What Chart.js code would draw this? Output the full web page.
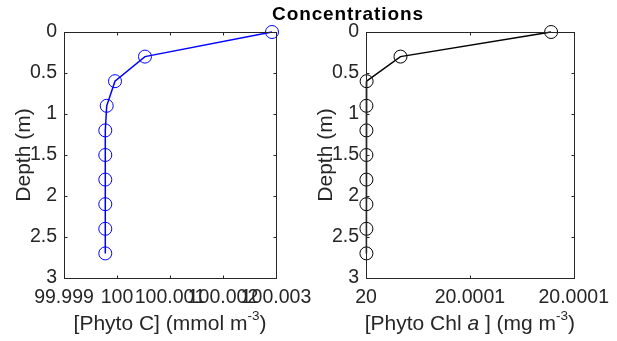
<!DOCTYPE html>
<html>
<head>
<meta charset="utf-8">
<script src="https://cdn.jsdelivr.net/npm/chart.js@4.4.0/dist/chart.umd.min.js"></script>
<style>
body{margin:0;background:#fff;}
#wrap{position:relative;width:617px;height:341px;}
canvas{position:absolute;left:0;top:0;}
#title{
    position:absolute;left:248px;top:3px;width:200px;
    text-align:center;font:bold 19px "Liberation Sans";
    letter-spacing:0.9px;line-height:22px;color:#000;
}
</style>
</head>
<body>
<div id="wrap">
<canvas id="chartC" width="617" height="341"></canvas>
<canvas id="chartChl" width="617" height="341"></canvas>
<div id="title">Concentrations</div>
</div>
<script>

/* DATA */

const depth = [0, 0.3, 0.6, 0.9, 1.2, 1.5, 1.8, 2.1, 2.4, 2.7];

const phytoC = [100.002925, 100.000528, 99.999962, 99.999806, 99.999779,
    99.999779, 99.999779, 99.999779, 99.999779, 99.999779];

const phytoChl = [20.0000891, 20.0000166, 20.0000003, 20.0000002, 20.0000002,
    20.0000002, 20.0000002, 20.0000002, 20.0000002, 20.0000002];

const depthTicks = [0, 0.5, 1, 1.5, 2, 2.5, 3];
const depthTickLabels = ["0", "0.5", "1", "1.5", "2", "2.5", "3"];

const cTicks = [99.999, 100, 100.001, 100.002, 100.003];
const cTickLabels = ["99.999", "100", "100.001", "100.002", "100.003"];

const chlTicks = [20, 20.00005, 20.0001];
const chlTickLabels = ["20", "20.0001", "20.0001"];

const AXIS_COLOR = "#262626";
const FONT = "Liberation Sans";

Chart.defaults.font.family = FONT;
Chart.defaults.color = AXIS_COLOR;

/* BOX, INNER TICKS AND AXIS LABELS */

function partFont(p){
    if(p.sup) return "13.5px " + FONT;
    if(p.italic) return "italic 21px " + FONT;
    return "21px " + FONT;
}

function drawParts(ctx, parts, cx, y){

    let total = 0;

    parts.forEach(p => {
        ctx.font = partFont(p);
        total += ctx.measureText(p.text).width;
    });

    let x = cx - total / 2;

    parts.forEach(p => {
        ctx.font = partFont(p);
        ctx.fillText(p.text, x, p.sup ? y - 10 : y);
        x += ctx.measureText(p.text).width;
    });

}

const framePlugin = {

    id: "frame",

    afterDraw(chart, args, opts){

        const ctx = chart.ctx;
        const area = chart.chartArea;
        const xs = chart.scales.x;
        const ys = chart.scales.y;
        const len = 3;

        ctx.save();
        ctx.strokeStyle = AXIS_COLOR;
        ctx.lineWidth = 1;

        const l = Math.round(area.left) + 0.5;
        const r = Math.round(area.right) + 0.5;
        const t = Math.round(area.top) + 0.5;
        const b = Math.round(area.bottom) + 0.5;

        ctx.strokeRect(l, t, r - l, b - t);

        ctx.beginPath();

        xs.ticks.forEach(tk => {
            const px = Math.round(xs.getPixelForValue(tk.value)) + 0.5;
            if(px <= l + 1 || px >= r - 1) return;
            ctx.moveTo(px, b); ctx.lineTo(px, b - len);
            ctx.moveTo(px, t); ctx.lineTo(px, t + len);
        });

        ys.ticks.forEach(tk => {
            const py = Math.round(ys.getPixelForValue(tk.value)) + 0.5;
            if(py <= t + 1 || py >= b - 1) return;
            ctx.moveTo(l, py); ctx.lineTo(l + len, py);
            ctx.moveTo(r, py); ctx.lineTo(r - len, py);
        });

        ctx.stroke();

        ctx.fillStyle = AXIS_COLOR;
        ctx.textBaseline = "alphabetic";
        drawParts(ctx, opts.xLabel, (area.left + area.right) / 2, area.bottom + 52);

        ctx.translate(area.left - 40, (area.top + area.bottom) / 2);
        ctx.rotate(-Math.PI / 2);
        ctx.textAlign = "left";
        ctx.textBaseline = "middle";
        drawParts(ctx, [{text: opts.yLabel}], 0, 0);

        ctx.restore();

    }

};

/* ONE DEPTH PROFILE */

function makeProfile(canvasId, values, color, xMin, xMax, xTicks, xLabels, leftPad, rightPad, yWidth, xLabel){

    new Chart(document.getElementById(canvasId), {
        type: "line",
        data: {
            datasets: [{
                data: values.map((v, i) => ({x: v, y: depth[i]})),
                borderColor: color,
                borderWidth: 1.5,
                pointRadius: 6.5,
                pointHoverRadius: 6.5,
                pointBorderWidth: 1,
                pointBorderColor: color,
                pointBackgroundColor: "rgba(0,0,0,0)",
                tension: 0,
                clip: false
            }]
        },
        options: {
            responsive: false,
            animation: false,
            events: [],
            layout: {
                autoPadding: false,
                padding: {top: 32, right: rightPad, bottom: 0, left: leftPad}
            },
            plugins: {
                legend: {display: false},
                tooltip: {enabled: false},
                frame: {
                    xLabel: xLabel,
                    yLabel: "Depth (m)"
                }
            },
            scales: {
                x: {
                    type: "linear",
                    min: xMin,
                    max: xMax,
                    grid: {display: false, drawTicks: false},
                    border: {display: false},
                    afterBuildTicks: scale => {
                        scale.ticks = xTicks.map(v => ({value: v}));
                    },
                    afterFit: scale => { scale.height = 63; },
                    ticks: {
                        autoSkip: false,
                        maxRotation: 0,
                        padding: 8,
                        font: {size: 19.5},
                        callback: (value, index) => xLabels[index]
                    }
                },
                y: {
                    type: "linear",
                    reverse: true,
                    min: 0,
                    max: 3,
                    grid: {display: false, drawTicks: false},
                    border: {display: false},
                    afterBuildTicks: scale => {
                        scale.ticks = depthTicks.map(v => ({value: v}));
                    },
                    afterFit: scale => { scale.width = yWidth; },
                    ticks: {
                        autoSkip: false,
                        padding: 7,
                        font: {size: 19.5},
                        callback: (value, index) => depthTickLabels[index]
                    }
                }
            }
        },
        plugins: [framePlugin]
    });

}

/* START */

makeProfile("chartC", phytoC, "#0000ff", 99.999, 100.003, cTicks, cTickLabels,
    0, 341, 64,
    [{text: "[Phyto C] (mmol m"}, {text: "-3", sup: true}, {text: ")"}]);

makeProfile("chartChl", phytoChl, "#000000", 20, 20.0001, chlTicks, chlTickLabels,
    300, 40, 66,
    [{text: "[Phyto Chl "}, {text: "a", italic: true}, {text: " ] (mg m"}, {text: "-3", sup: true}, {text: ")"}]);

</script>
</body>
</html>
